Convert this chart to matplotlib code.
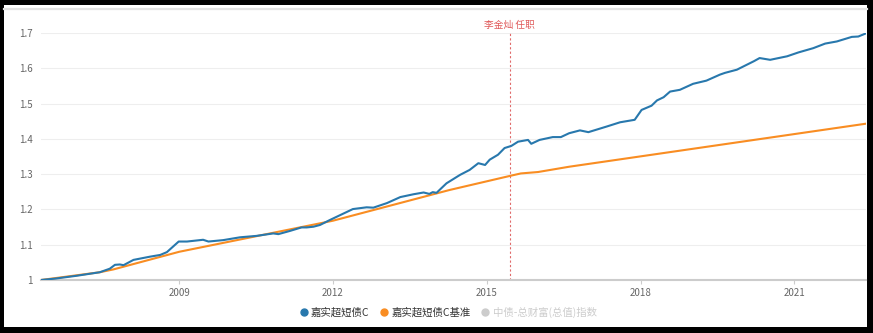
import matplotlib
matplotlib.use("Agg")
import matplotlib.pyplot as plt
import matplotlib.dates as mdates
from matplotlib.lines import Line2D
from matplotlib.patches import Rectangle
import pandas as pd

plt.rcParams["font.family"] = ["Noto Sans CJK SC", "DejaVu Sans"]

# 嘉实超短债C 累计净值
fund_dates = [
    "2006-04-22", "2006-08-01", "2007-01-01", "2007-06-15", "2007-08-25", "2007-10-01",
    "2007-11-05", "2007-12-01", "2008-02-10", "2008-06-05", "2008-08-18", "2008-10-05",
    "2008-12-28", "2009-02-25", "2009-06-20", "2009-07-28", "2009-11-10", "2010-03-10",
    "2010-07-05", "2010-11-02", "2010-12-08", "2011-02-28", "2011-05-22", "2011-06-28",
    "2011-08-15", "2011-10-01", "2011-12-10", "2012-05-22", "2012-08-28", "2012-10-15",
    "2013-01-20", "2013-04-25", "2013-07-28", "2013-10-08", "2013-11-18", "2013-12-12",
    "2014-01-08", "2014-03-20", "2014-06-25", "2014-09-01", "2014-11-02", "2014-12-20",
    "2015-01-22", "2015-03-22", "2015-05-08", "2015-06-25", "2015-08-12", "2015-10-22",
    "2015-11-14", "2016-01-12", "2016-04-15", "2016-06-12", "2016-08-10", "2016-10-26",
    "2016-12-25", "2017-05-05", "2017-08-08", "2017-11-20", "2018-01-08", "2018-03-20",
    "2018-04-28", "2018-06-14", "2018-07-30", "2018-10-08", "2019-01-10", "2019-04-15",
    "2019-07-20", "2019-08-25", "2019-11-18", "2020-03-18", "2020-04-28", "2020-07-12",
    "2020-11-10", "2021-01-30", "2021-05-15", "2021-08-08", "2021-10-30", "2022-02-14",
    "2022-04-01", "2022-05-26",
]
fund_values = [
    1.000, 1.004, 1.012, 1.022, 1.032, 1.043,
    1.044, 1.042, 1.057, 1.066, 1.071, 1.079,
    1.109, 1.109, 1.114, 1.109, 1.113, 1.121,
    1.125, 1.132, 1.130, 1.139, 1.149, 1.149,
    1.151, 1.156, 1.170, 1.201, 1.206, 1.205,
    1.218, 1.235, 1.243, 1.248, 1.244, 1.249,
    1.247, 1.274, 1.298, 1.312, 1.331, 1.326,
    1.341, 1.355, 1.374, 1.380, 1.392, 1.397,
    1.386, 1.397, 1.405, 1.405, 1.416, 1.424,
    1.419, 1.435, 1.447, 1.454, 1.482, 1.494,
    1.509, 1.518, 1.534, 1.539, 1.556, 1.565,
    1.582, 1.587, 1.596, 1.620, 1.629, 1.624,
    1.634, 1.645, 1.657, 1.670, 1.676, 1.689,
    1.690, 1.699,
]

# 业绩比较基准
bench_dates = [
    "2006-04-22", "2007-06-15", "2007-09-20", "2009-01-01", "2012-01-01",
    "2014-04-10", "2015-06-15", "2015-09-01", "2016-01-01", "2016-08-10", "2022-05-26",
]
bench_values = [1.000, 1.022, 1.030, 1.080, 1.168, 1.255, 1.295, 1.302, 1.306, 1.321, 1.443]

manager_date = "2015-06-15"
manager_label = "李金灿 任职"
legend_labels = ["嘉实超短债C", "嘉实超短债C基准", "中债-总财富(总值)指数"]
year_ticks = ["2009-01-01", "2012-01-01", "2015-01-01", "2018-01-01", "2021-01-01"]
y_ticks = [1.0, 1.1, 1.2, 1.3, 1.4, 1.5, 1.6, 1.7]

blue = "#2878ad"
orange = "#f98d22"
W, H = 873, 333

fig = plt.figure(figsize=(W / 100, H / 100), dpi=100, facecolor="black")
fig.patches.append(Rectangle((4 / W, 1 - 327 / H), 863 / W, 322 / H,
                             transform=fig.transFigure, facecolor="white",
                             edgecolor="none", zorder=-2))
fig.add_artist(Line2D([4 / W, 867 / W], [1 - 9 / H, 1 - 9 / H], color="#e2e2e2",
                      lw=1.6, transform=fig.transFigure, zorder=-1))

ax = fig.add_axes([41 / W, 53 / H, 825 / W, 247 / H])
ax.set_zorder(2)
ax.set_facecolor("none")

fd = pd.to_datetime(fund_dates)
bd = pd.to_datetime(bench_dates)
ax.plot(bd, bench_values, color=orange, lw=1.5, zorder=3)
ax.plot(fd, fund_values, color=blue, lw=1.5, zorder=4)

md = pd.Timestamp(manager_date)
ax.axvline(md, color="#e06a6a", lw=0.8, ls=(0, (2, 2)), zorder=2)
ax.text(md, 1.032, manager_label, transform=ax.get_xaxis_transform(), ha="center",
        va="center", color="#e05a5a", fontsize=7)

ax.set_xlim(pd.Timestamp("2006-04-22"), pd.Timestamp("2022-05-26"))
ax.set_ylim(1.0, 1.7)
ax.set_yticks(y_ticks)
ax.set_yticklabels([f"{v:g}" for v in y_ticks])
ax.set_xticks(pd.to_datetime(year_ticks))
ax.xaxis.set_major_formatter(mdates.DateFormatter("%Y"))
ax.grid(axis="y", color="#eeeeee", lw=0.8)
ax.set_axisbelow(True)
for s in ["top", "right", "left"]:
    ax.spines[s].set_visible(False)
ax.spines["bottom"].set_color("#cccccc")
ax.spines["bottom"].set_linewidth(1.5)
ax.tick_params(axis="y", length=0, pad=6, labelsize=7, labelcolor="#666666")
ax.tick_params(axis="x", length=3, color="#cccccc", pad=3, labelsize=7, labelcolor="#666666")

colors = [blue, orange, "#cccccc"]
handles = [Line2D([], [], ls="none", marker="o", markersize=5, color=c) for c in colors]
leg = fig.legend(handles, legend_labels, loc="center", bbox_to_anchor=(447 / W, 1 - 312 / H),
                 ncol=3, frameon=False, fontsize=7.5, handletextpad=0.1,
                 columnspacing=0.8, handlelength=1.2)
for t, c in zip(leg.get_texts(), ["#333333", "#333333", "#cccccc"]):
    t.set_color(c)

fig.savefig("out.png", dpi=100, facecolor="black")
